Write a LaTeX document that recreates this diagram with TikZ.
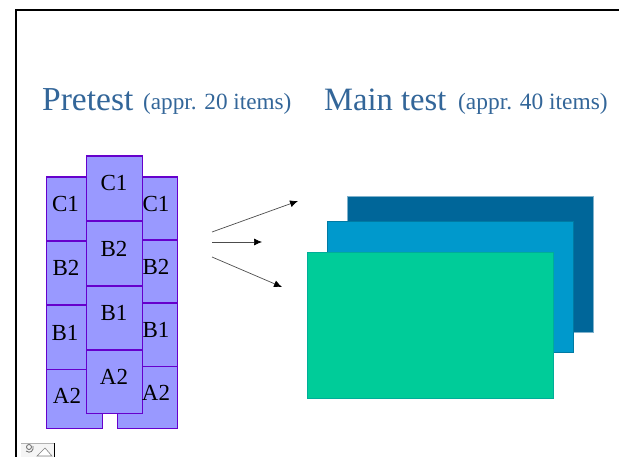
\documentclass[tikz,border=0pt]{standalone}
\usepackage{fontspec}
\setmainfont{Liberation Serif}
\usetikzlibrary{arrows.meta}
\definecolor{cellfill}{RGB}{153,153,255}
\definecolor{celledge}{RGB}{102,0,204}
\definecolor{titleblue}{RGB}{51,102,153}
\definecolor{darkteal}{RGB}{0,102,153}
\definecolor{midblue}{RGB}{0,153,204}
\definecolor{seagreen}{RGB}{0,204,153}
\tikzset{
  cell/.style={draw=celledge,fill=cellfill,line width=1.75pt,rectangle,inner sep=0pt,anchor=north west},
  celltext/.style={font=\fontsize{23}{23}\selectfont,text=black,inner sep=0pt},
  sheet/.style={rectangle,inner sep=0pt,anchor=north west,line width=0.5pt},
  bigtitle/.style={font=\fontsize{33.5}{33.5}\selectfont,text=titleblue,inner sep=0pt,anchor=base west},
  smalltitle/.style={font=\fontsize{23.2}{23.2}\selectfont,text=titleblue,inner sep=0pt,anchor=base west},
  flow/.style={draw=black!70,line width=0.7pt,-{Latex[length=8pt,width=7pt,black]}}
}
\begin{document}
\begin{tikzpicture}[x=1pt,y=-1pt]
\useasboundingbox (0,0) rectangle (619,457);
\fill[white] (0,0) rectangle (619,457);
% frame
\draw[black,line width=2pt] (15.5,457) -- (15.5,10.5) -- (619,10.5);
% titles
\node[bigtitle] (t1) at (42,111) {Pretest};
\node[smalltitle] (t2) at (143,110) {(appr. 20 items)};
\node[bigtitle,font=\fontsize{32.6}{32.6}\selectfont] (t3) at (324,111) {Main test};
\node[smalltitle,font=\fontsize{23.4}{23.4}\selectfont] (t4) at (458,110) {(appr. 40 items)};
% left column
\node[cell,minimum width=56pt,minimum height=59pt] (la) at (45.5,368.5) {};
\node[cell,minimum width=40pt,minimum height=64pt] (lb1) at (45.5,304.5) {};
\node[cell,minimum width=40pt,minimum height=64pt] (lb2) at (45.5,240.5) {};
\node[cell,minimum width=40pt,minimum height=64pt] (lc) at (45.5,176.5) {};
% right column
\node[cell,minimum width=60pt,minimum height=62pt] (ra) at (116.5,365.5) {};
\node[cell,minimum width=35pt,minimum height=63pt] (rb1) at (141.5,302.5) {};
\node[cell,minimum width=35pt,minimum height=63pt] (rb2) at (141.5,239.5) {};
\node[cell,minimum width=35pt,minimum height=63pt] (rc) at (141.5,176.5) {};
% centre column
\node[cell,minimum width=56pt,minimum height=65pt] (cc) at (85.5,155.5) {};
\node[cell,minimum width=56pt,minimum height=65pt] (cb2) at (85.5,220.5) {};
\node[cell,minimum width=56pt,minimum height=63.5pt] (cb1) at (85.5,285.5) {};
\node[cell,minimum width=56pt,minimum height=63.5pt] (ca) at (85.5,349) {};
% labels
\node[celltext] (xlc) at (65.5,204) {C1};
\node[celltext] (xlb2) at (66,268) {B2};
\node[celltext] (xlb1) at (65,333) {B1};
\node[celltext] (xla) at (67,396) {A2};
\node[celltext] (xcc) at (114,183) {C1};
\node[celltext] (xcb2) at (114,249) {B2};
\node[celltext] (xcb1) at (114,313) {B1};
\node[celltext] (xca) at (114,377) {A2};
\node[celltext] (xrc) at (156,204) {C1};
\node[celltext] (xrb2) at (156,267) {B2};
\node[celltext] (xrb1) at (156,330) {B1};
\node[celltext] (xra) at (156,393) {A2};
% sheets
\node[sheet,draw=darkteal!50!white,fill=darkteal,minimum width=246pt,minimum height=136pt] (s3) at (347,196) {};
\node[sheet,draw=midblue!80!black,fill=midblue,minimum width=246pt,minimum height=130pt] (s2) at (327,221.5) {};
\node[sheet,draw=seagreen!70!darkteal,fill=seagreen,minimum width=246pt,minimum height=145.5pt] (s1) at (307,252) {};
% arrows
\coordinate (a0) at (212,232);
\coordinate (a1) at (298,201);
\coordinate (b0) at (212,242);
\coordinate (b1) at (262,242);
\coordinate (c0) at (212,257);
\coordinate (c1) at (282,287);
\draw[flow] (a0) -- (a1);
\draw[flow] (b0) -- (b1);
\draw[flow] (c0) -- (c1);
% toolbar icon
\fill[black!4] (21,443) rectangle (54,457);
\draw[black!30,line width=0.5pt] (21,443.5) -- (54,443.5);
\draw[black,line width=1.2pt] (54.5,443) -- (54.5,457);
\draw[black!60,line width=0.8pt] (29,447) circle (2.5pt);
\draw[black!60,line width=0.8pt] (26,451) .. controls (30,454) and (34,451) .. (33,446);
\draw[black!50,line width=0.6pt,fill=white] (37,456) -- (45,448) -- (52,456) -- cycle;
\end{tikzpicture}
\end{document}
